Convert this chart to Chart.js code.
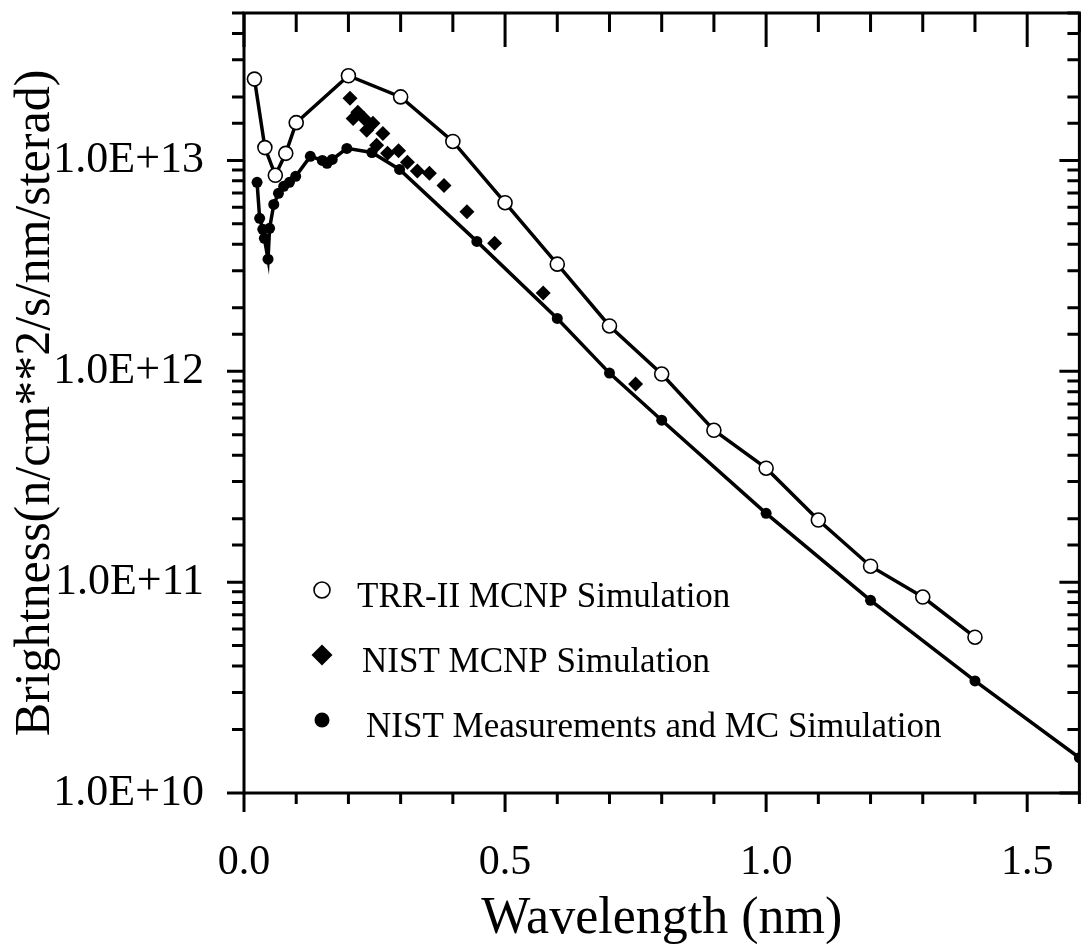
<!DOCTYPE html>
<html>
<head>
<meta charset="utf-8">
<script src="https://cdn.jsdelivr.net/npm/chart.js@4.4.1/dist/chart.umd.min.js"></script>
<style>
  html, body { margin: 0; padding: 0; background: #fff; }
  #wrap { width: 1088px; height: 952px; }
</style>
</head>
<body>
<div id="wrap"><canvas id="grafico" width="1088" height="952"></canvas></div>
<script>
// --- dados ---
const trrX = [0.02, 0.04, 0.06, 0.08, 0.1, 0.2, 0.3, 0.4, 0.5, 0.6, 0.7, 0.8, 0.9, 1.0, 1.1, 1.2, 1.3, 1.4];
const trrY = [2.43e13, 1.15e13, 8.5e12, 1.08e13, 1.51e13, 2.52e13, 2.0e13, 1.23e13, 6.3e12, 3.22e12, 1.64e12, 9.7e11, 5.25e11, 3.47e11, 1.97e11, 1.19e11, 8.5e10, 5.48e10];

const mcnpX = [0.203, 0.209, 0.218, 0.230, 0.235, 0.247, 0.254, 0.266, 0.275, 0.296, 0.313, 0.332, 0.355, 0.383, 0.427, 0.480, 0.573, 0.750];
const mcnpY = [1.97e13, 1.58e13, 1.69e13, 1.58e13, 1.39e13, 1.50e13, 1.18e13, 1.34e13, 1.08e13, 1.11e13, 9.8e12, 8.9e12, 8.7e12, 7.6e12, 5.7e12, 4.05e12, 2.35e12, 8.7e11];

const measX = [0.025, 0.03, 0.036, 0.039, 0.046, 0.049, 0.057, 0.066, 0.076, 0.087, 0.099, 0.127, 0.15, 0.159, 0.169, 0.197, 0.245, 0.298, 0.446, 0.6, 0.7, 0.8, 1.0, 1.2, 1.4, 1.6];
const measY = [7.87e12, 5.31e12, 4.71e12, 4.27e12, 3.4e12, 4.76e12, 6.18e12, 6.98e12, 7.53e12, 7.87e12, 8.4e12, 1.045e13, 1.0e13, 9.68e12, 1.01e13, 1.14e13, 1.09e13, 9.06e12, 4.13e12, 1.78e12, 9.8e11, 5.86e11, 2.12e11, 8.2e10, 3.4e10, 1.47e10];

const seriesNames = ['TRR-II MCNP Simulation', 'NIST MCNP Simulation', 'NIST Measurements and MC Simulation'];
const xTicks = [0, 0.5, 1.0, 1.5];

const pares = (xs, ys) => xs.map((v, i) => ({ x: v, y: ys[i] }));
const isDecade = v => Math.abs(Math.log10(v) - Math.round(Math.log10(v))) < 1e-9;

Chart.defaults.font.family = "'Liberation Serif', 'Times New Roman', serif";
Chart.defaults.color = '#000';

// --- moldura, marcas dos eixos e legenda ---
const molduraPlugin = {
  id: 'moldura',
  afterDatasetsDraw(chart) {
    const { ctx, chartArea: a, scales: { x, y } } = chart;
    ctx.save();
    ctx.strokeStyle = '#000';
    ctx.lineWidth = 3;
    ctx.strokeRect(a.left, a.top, a.right - a.left, a.bottom - a.top);

    ctx.beginPath();
    for (let i = 0; i <= 16; i++) {
      const px = x.getPixelForValue(i / 10);
      const major = i % 5 === 0;
      ctx.moveTo(px, a.bottom); ctx.lineTo(px, a.bottom + (major ? 19 : 11));
      ctx.moveTo(px, a.top); ctx.lineTo(px, a.top + (major ? 34 : 19));
    }
    y.ticks.forEach(t => {
      const py = y.getPixelForValue(t.value);
      const major = isDecade(t.value);
      ctx.moveTo(a.left, py); ctx.lineTo(a.left - (major ? 17 : 12), py);
      ctx.moveTo(a.right, py); ctx.lineTo(a.right - (major ? 20 : 12), py);
    });
    ctx.stroke();

    // legenda dentro da área do gráfico
    const marcaY = [590, 655, 720];
    const textoY = [598, 663, 728];
    const textoX = [357, 362, 366];
    const estilos = [
      { pointStyle: 'circle', radius: 8, borderWidth: 1.6, fill: '#fff' },
      { pointStyle: 'rectRot', radius: 10.5, borderWidth: 0, fill: '#000' },
      { pointStyle: 'circle', radius: 7.5, borderWidth: 0, fill: '#000' }
    ];
    ctx.font = "35px 'Liberation Serif', serif";
    ctx.textBaseline = 'middle';
    ctx.textAlign = 'left';
    seriesNames.forEach((nome, i) => {
      const e = estilos[i];
      ctx.fillStyle = e.fill;
      ctx.strokeStyle = '#000';
      ctx.lineWidth = e.borderWidth;
      Chart.helpers.drawPoint(ctx, { pointStyle: e.pointStyle, radius: e.radius, rotation: 0, borderWidth: e.borderWidth }, 322, marcaY[i]);
      ctx.fillStyle = '#000';
      ctx.fillText(nome, textoX[i], textoY[i]);
    });
    ctx.restore();
  }
};

new Chart(document.getElementById('grafico'), {
  type: 'scatter',
  data: {
    datasets: [
      {
        label: seriesNames[0],
        data: pares(trrX, trrY),
        showLine: true,
        borderColor: '#000',
        borderWidth: 3.5,
        pointStyle: 'circle',
        pointRadius: 7,
        pointBorderWidth: 1.6,
        pointBackgroundColor: '#fff',
        pointBorderColor: '#000'
      },
      {
        label: seriesNames[1],
        data: pares(mcnpX, mcnpY),
        showLine: false,
        pointStyle: 'rectRot',
        pointRadius: 7.5,
        pointBorderWidth: 0,
        pointBackgroundColor: '#000',
        pointBorderColor: '#000'
      },
      {
        label: seriesNames[2],
        data: pares(measX, measY),
        showLine: true,
        borderColor: '#000',
        borderWidth: 3.5,
        pointStyle: 'circle',
        pointRadius: 5.5,
        pointBorderWidth: 0,
        pointBackgroundColor: '#000',
        pointBorderColor: '#000'
      }
    ]
  },
  options: {
    responsive: false,
    animation: false,
    layout: { padding: { top: 13, right: 2, left: 0, bottom: 0 } },
    plugins: { legend: { display: false }, tooltip: { enabled: false } },
    scales: {
      x: {
        type: 'linear',
        min: 0,
        max: 1.6,
        grid: { display: false },
        border: { display: false },
        afterBuildTicks: s => { s.ticks = xTicks.map(v => ({ value: v })); },
        ticks: {
          padding: 37,
          font: { size: 42 },
          callback: v => v.toFixed(1)
        },
        title: {
          display: true,
          text: 'Wavelength (nm)',
          font: { size: 52 },
          padding: { top: 0, bottom: 1 }
        },
        afterFit: s => {
          s.height = 952 - 793;
          s.paddingLeft = 0;
          s.paddingRight = 0;
        }
      },
      y: {
        type: 'logarithmic',
        min: 1e10,
        max: 5e13,
        grid: { display: false },
        border: { display: false },
        ticks: {
          autoSkip: false,
          padding: 32,
          font: { size: 44 },
          callback: v => isDecade(v) ? '1.0E+' + Math.round(Math.log10(v)) : ''
        },
        title: {
          display: true,
          text: 'Brightness(n/cm**2/s/nm/sterad)',
          font: { size: 50 },
          padding: { top: 6, bottom: 0 }
        },
        afterFit: s => {
          s.width = 244;
          s.paddingTop = 0;
          s.paddingBottom = 0;
        }
      }
    }
  },
  plugins: [molduraPlugin]
});
</script>
</body>
</html>
